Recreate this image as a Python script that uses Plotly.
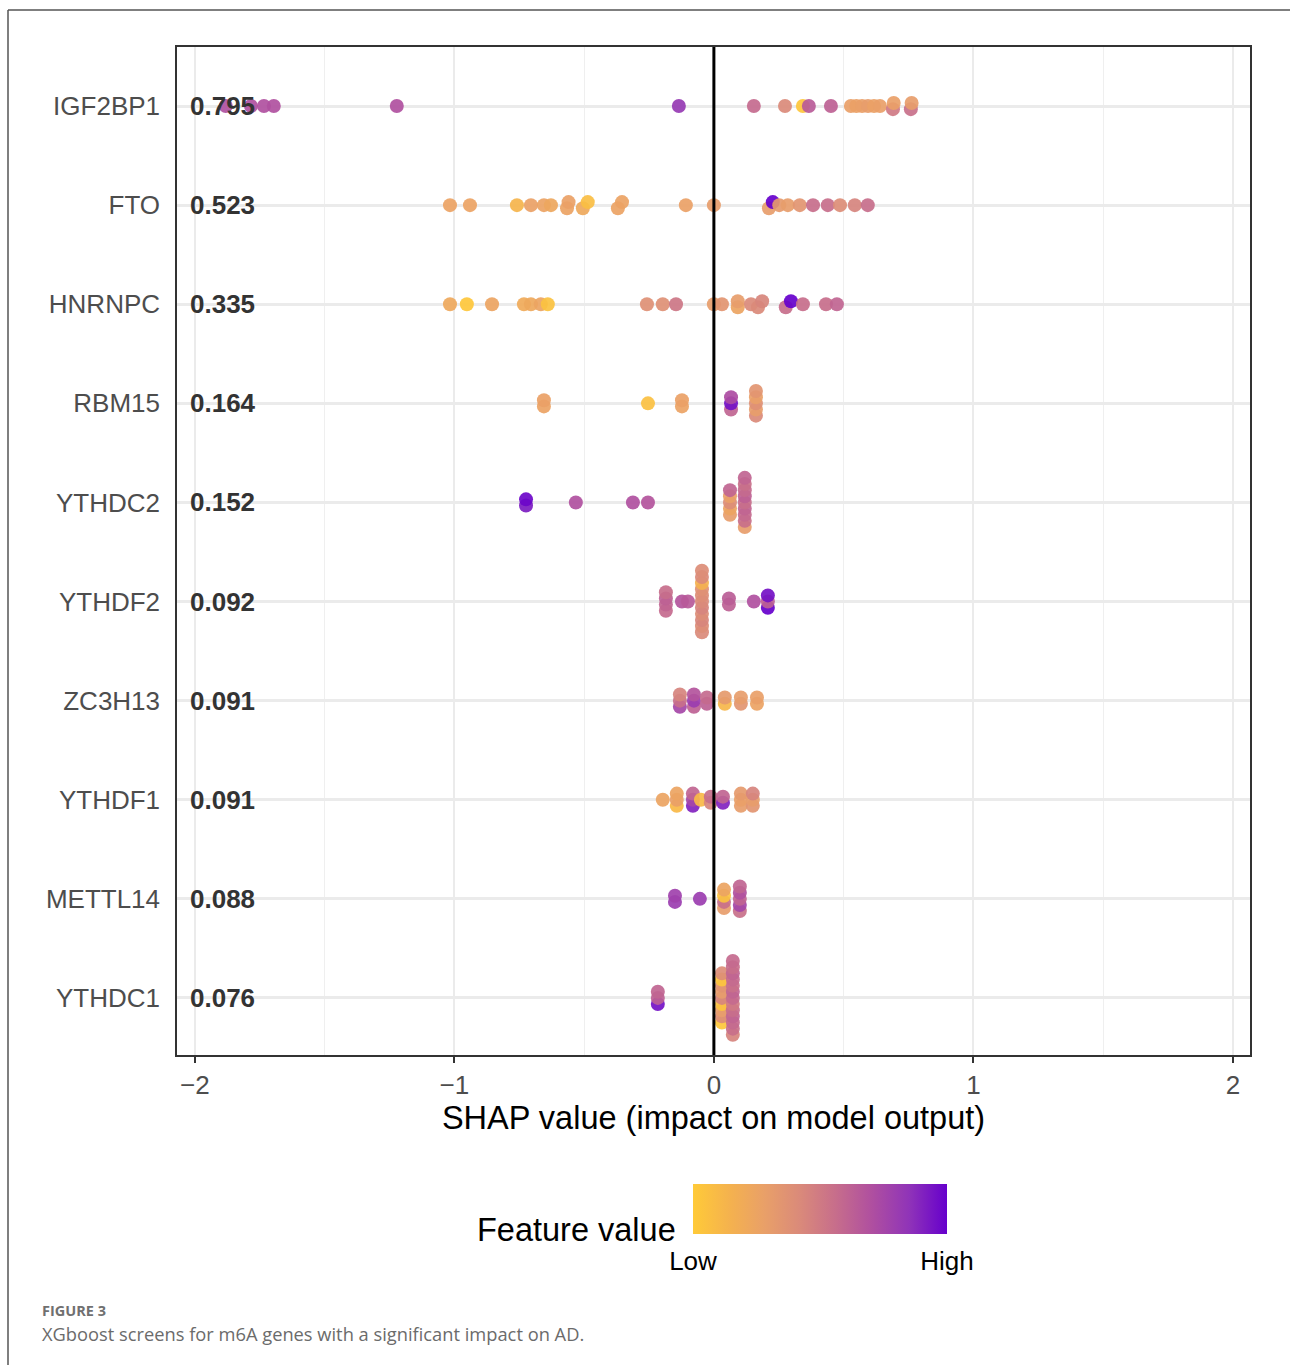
import plotly.graph_objects as go

# ---------------- data ----------------
genes = ["IGF2BP1", "FTO", "HNRNPC", "RBM15", "YTHDC2",
         "YTHDF2", "ZC3H13", "YTHDF1", "METTL14", "YTHDC1"]
mean_abs = ["0.795", "0.523", "0.335", "0.164", "0.152",
            "0.092", "0.091", "0.091", "0.088", "0.076"]

shap_IGF2BP1 = [-1.881, -1.784, -1.734, -1.696, -1.222, -0.135, 0.154, 0.274, 0.343, 0.366,
                0.451, 0.528, 0.549, 0.571, 0.594, 0.617, 0.640, 0.690, 0.693, 0.759, 0.762]
feat_IGF2BP1 = [0.70, 0.70, 0.70, 0.70, 0.70, 0.82, 0.58, 0.42, 0.02, 0.65,
                0.62, 0.28, 0.27, 0.28, 0.30, 0.27, 0.28, 0.50, 0.28, 0.55, 0.30]

shap_FTO = [-1.017, -0.940, -0.759, -0.705, -0.655, -0.628, -0.566, -0.560, -0.505, -0.486,
            -0.370, -0.354, -0.108, 0.000, 0.212, 0.227, 0.252, 0.285, 0.331, 0.382,
            0.439, 0.486, 0.543, 0.593]
feat_FTO = [0.26, 0.26, 0.13, 0.27, 0.26, 0.23, 0.26, 0.27, 0.22, 0.07,
            0.26, 0.26, 0.27, 0.30, 0.30, 1.00, 0.32, 0.30, 0.35, 0.56,
            0.56, 0.40, 0.45, 0.56]

shap_HNRNPC = [-1.017, -0.952, -0.855, -0.732, -0.705, -0.667, -0.640, -0.258, -0.197, -0.146,
               0.000, 0.031, 0.092, 0.092, 0.143, 0.170, 0.186, 0.277, 0.297, 0.343,
               0.432, 0.474]
feat_HNRNPC = [0.22, 0.02, 0.25, 0.20, 0.22, 0.25, 0.05, 0.38, 0.38, 0.52,
               0.30, 0.35, 0.25, 0.30, 0.42, 0.42, 0.44, 0.56, 1.00, 0.56,
               0.56, 0.60]

shap_RBM15 = [-0.655, -0.655, -0.254, -0.123, -0.123, 0.066, 0.066, 0.066,
              0.162, 0.162, 0.162, 0.162, 0.162]
feat_RBM15 = [0.26, 0.27, 0.06, 0.26, 0.27, 0.60, 0.95, 0.72,
              0.42, 0.30, 0.38, 0.28, 0.35]

shap_YTHDC2 = [-0.724, -0.724, -0.532, -0.312, -0.254,
               0.062, 0.062, 0.062, 0.062, 0.062,
               0.119, 0.119, 0.119, 0.119, 0.119, 0.119, 0.119, 0.119, 0.119]
feat_YTHDC2 = [0.92, 0.98, 0.70, 0.70, 0.68,
               0.30, 0.25, 0.40, 0.28, 0.60,
               0.30, 0.55, 0.58, 0.60, 0.56, 0.62, 0.58, 0.55, 0.60]

shap_YTHDF2 = [-0.185, -0.185, -0.185, -0.185, -0.123, -0.100,
               -0.046, -0.046, -0.046, -0.046, -0.046, -0.046, -0.046, -0.046, -0.046, -0.046, -0.046,
               0.058, 0.058, 0.154, 0.208, 0.208, 0.208]
feat_YTHDF2 = [0.58, 0.60, 0.62, 0.56, 0.68, 0.66,
               0.42, 0.40, 0.44, 0.40, 0.45, 0.42, 0.40, 0.38, 0.15, 0.42, 0.40,
               0.62, 0.64, 0.70, 1.00, 0.62, 0.95]

shap_ZC3H13 = [-0.131, -0.131, -0.131, -0.077, -0.077, -0.077, -0.027, -0.027,
               0.042, 0.042, 0.104, 0.104, 0.166, 0.166]
feat_ZC3H13 = [0.75, 0.55, 0.45, 0.62, 0.80, 0.68, 0.62, 0.58,
               0.12, 0.32, 0.35, 0.30, 0.26, 0.28]

shap_YTHDF1 = [-0.197, -0.143, -0.143, -0.143, -0.081, -0.081, -0.081, -0.050,
               -0.012, -0.012, 0.035, 0.035, 0.104, 0.104, 0.104, 0.150, 0.150, 0.150]
feat_YTHDF1 = [0.25, 0.10, 0.28, 0.25, 0.90, 0.75, 0.60, 0.10,
               0.45, 0.56, 0.90, 0.60, 0.30, 0.28, 0.32, 0.35, 0.30, 0.45]

shap_METTL14 = [-0.150, -0.150, -0.054, 0.039, 0.039, 0.039, 0.039,
                0.100, 0.100, 0.100, 0.100, 0.100]
feat_METTL14 = [0.80, 0.78, 0.80, 0.30, 0.55, 0.05, 0.25,
                0.55, 0.75, 0.60, 0.70, 0.60]

shap_YTHDC1 = [-0.216, -0.216, -0.216,
               0.031, 0.031, 0.031, 0.031, 0.031, 0.031, 0.031, 0.031, 0.031,
               0.073, 0.073, 0.073, 0.073, 0.073, 0.073, 0.073, 0.073, 0.073, 0.073, 0.073, 0.073, 0.073]
feat_YTHDC1 = [0.95, 0.62, 0.60,
               0.02, 0.40, 0.30, 0.05, 0.45, 0.30, 0.35, 0.03, 0.40,
               0.45, 0.55, 0.58, 0.60, 0.56, 0.50, 0.58, 0.60, 0.55, 0.58, 0.60, 0.56, 0.58]

rows = [
    (shap_IGF2BP1, feat_IGF2BP1), (shap_FTO, feat_FTO), (shap_HNRNPC, feat_HNRNPC),
    (shap_RBM15, feat_RBM15), (shap_YTHDC2, feat_YTHDC2), (shap_YTHDF2, feat_YTHDF2),
    (shap_ZC3H13, feat_ZC3H13), (shap_YTHDF1, feat_YTHDF1), (shap_METTL14, feat_METTL14),
    (shap_YTHDC1, feat_YTHDC1),
]

colorscale = [[0.0, "#FFCA38"], [0.15, "#F4B14F"], [0.28, "#E9A068"], [0.42, "#DA8A7A"],
              [0.56, "#C76E8B"], [0.70, "#B0509F"], [0.85, "#9034B8"], [1.0, "#6600CC"]]

# ---------------- stacking (sina-like) ----------------
STEP = 0.062
GAP = 0.02
xs, ys, cs = [], [], []
n_rows = len(genes)
for r, (sv, fv) in enumerate(rows):
    base = n_rows - r
    order = sorted(range(len(sv)), key=lambda i: sv[i])
    clusters = []
    for i in order:
        if clusters and sv[i] - sv[clusters[-1][0]] <= GAP:
            clusters[-1].append(i)
        else:
            clusters.append([i])
    offs = {}
    for cl in clusters:
        cl_sorted = sorted(cl)
        n = len(cl_sorted)
        for k, i in enumerate(cl_sorted):
            offs[i] = (k - (n - 1) / 2) * STEP
    for i in range(len(sv)):
        xs.append(sv[i])
        ys.append(base + offs[i])
        cs.append(fv[i])

W, H = 1290, 1365
L, R, T, B = 177, 40, 47, 310
PW, PH = W - L - R, H - T - B


def px(xp):
    return (xp - L) / PW


def py(yp):
    return (H - B - yp) / PH


fig = go.Figure()
fig.add_trace(go.Scatter(
    x=xs, y=ys, mode="markers", hoverinfo="skip",
    marker=dict(size=14, color=cs, colorscale=colorscale, cmin=0, cmax=1, opacity=0.92,
                line=dict(width=0),
                showscale=True,
                colorbar=dict(orientation="h", x=px(820), xanchor="center",
                              y=py(1184), yanchor="top", len=254, lenmode="pixels",
                              thickness=50, thicknessmode="pixels", outlinewidth=0,
                              xpad=0, ypad=0, tickvals=[0, 1], ticktext=["Low", "High"],
                              ticks="outside", ticklen=5, tickcolor="rgba(0,0,0,0)",
                              tickfont=dict(size=26, color="black",
                                            family="Liberation Sans, Arial")))
))

# mean |SHAP| labels
for r, lab in enumerate(mean_abs):
    fig.add_annotation(x=-2.028, y=n_rows - r, xref="x", yref="y", text="<b>" + lab + "</b>",
                       showarrow=False, xanchor="left", yanchor="middle",
                       font=dict(size=26, color="#333333", family="Liberation Sans, Arial"))

# zero line on top
fig.add_shape(type="line", xref="x", yref="paper", x0=0, x1=0, y0=0, y1=1,
              line=dict(color="black", width=3), layer="above")

# outer figure frame
fig.add_shape(type="line", xref="paper", yref="paper", x0=px(8), x1=px(1300), y0=py(10), y1=py(10),
              line=dict(color="#555555", width=1.5))
fig.add_shape(type="line", xref="paper", yref="paper", x0=px(8), x1=px(8), y0=py(10), y1=py(1380),
              line=dict(color="#555555", width=1.5))

# legend title
fig.add_annotation(x=px(678), y=py(1230), xref="paper", yref="paper", text="Feature value",
                   showarrow=False, xanchor="right", yanchor="middle",
                   font=dict(size=32.5, color="black", family="Liberation Sans, Arial"))

# caption
fig.add_annotation(x=px(40), y=py(1310), xref="paper", yref="paper", text="<b>FIGURE 3</b>",
                   showarrow=False, xanchor="left", yanchor="middle",
                   font=dict(size=14.5, color="#707070", family="Open Sans"))
fig.add_annotation(x=px(40), y=py(1333), xref="paper", yref="paper",
                   text="XGboost screens for m6A genes with a significant impact on AD.",
                   showarrow=False, xanchor="left", yanchor="middle",
                   font=dict(size=18.3, color="#6B6B6B", family="Open Sans"))

fig.update_layout(
    width=W, height=H, margin=dict(l=L, r=R, t=T, b=B),
    paper_bgcolor="white", plot_bgcolor="white", showlegend=False,
    font=dict(family="Liberation Sans, Arial", color="#4D4D4D"),
)
fig.update_xaxes(
    range=[-2.069, 2.066], tickvals=[-2, -1, 0, 1, 2],
    showgrid=True, gridcolor="#EBEBEB", gridwidth=2,
    minor=dict(tickvals=[-1.5, -0.5, 0.5, 1.5], showgrid=True, gridcolor="#EFEFEF", gridwidth=1.3),
    zeroline=False, showline=True, mirror=True, linecolor="#333333", linewidth=1.5,
    ticks="outside", ticklen=6, tickwidth=1.5, tickcolor="#333333",
    tickfont=dict(size=26, color="#4D4D4D"),
    title=dict(text="SHAP value (impact on model output)", standoff=7,
               font=dict(size=32.5, color="black")),
)
fig.update_yaxes(
    range=[0.424, 10.596], tickvals=list(range(n_rows, 0, -1)), ticktext=genes,
    showgrid=True, gridcolor="#EBEBEB", gridwidth=2.5,
    zeroline=False, showline=True, mirror=True, linecolor="#333333", linewidth=1.5,
    ticks="outside", ticklen=10, tickcolor="rgba(0,0,0,0)",
    tickfont=dict(size=26, color="#4D4D4D"),
)

fig.write_html("out.html")
